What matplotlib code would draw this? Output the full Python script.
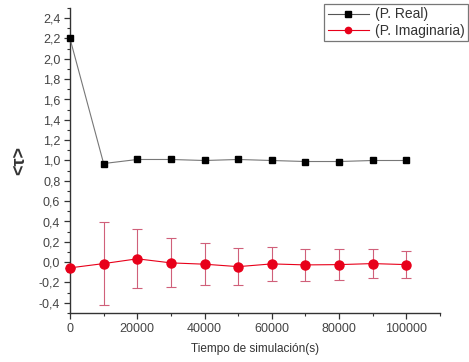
import matplotlib
matplotlib.use("Agg")
import matplotlib.pyplot as plt
from matplotlib.lines import Line2D
from matplotlib.ticker import MultipleLocator, FuncFormatter

plt.rcParams['font.family'] = ['Liberation Sans', 'DejaVu Sans']

tiempo = [0, 10000, 20000, 30000, 40000, 50000, 60000, 70000, 80000, 90000, 100000]
p_real = [2.20, 0.97, 1.01, 1.01, 1.00, 1.01, 1.00, 0.99, 0.99, 1.00, 1.00]
p_imag = [-0.056, -0.014, 0.033, -0.007, -0.02, -0.044, -0.017, -0.027, -0.024, -0.014, -0.024]
err_imag = [0.0, 0.41, 0.29, 0.24, 0.205, 0.185, 0.165, 0.155, 0.15, 0.14, 0.13]

fig = plt.figure(figsize=(4.69, 3.62), dpi=100)
ax = fig.add_axes([70/469, 1-313/362, 370/469, 305/362])

ax.plot(tiempo, p_real, color='#777777', lw=0.8, marker='s', ms=5,
        mfc='black', mec='black', clip_on=False, zorder=3)
ax.errorbar(tiempo, p_imag, yerr=err_imag, color='#e8001a', lw=0.8, marker='o', ms=6.5,
            mfc='#e8001a', mec='#e8001a', ecolor='#d0607a', elinewidth=0.8,
            capsize=3.5, capthick=0.8, clip_on=False, zorder=3)

ax.set_xlim(0, 110000)
ax.set_ylim(-0.5, 2.5)
ax.xaxis.set_major_locator(MultipleLocator(20000))
ax.xaxis.set_minor_locator(MultipleLocator(10000))
ax.yaxis.set_major_locator(MultipleLocator(0.2))
ax.yaxis.set_minor_locator(MultipleLocator(0.1))
ax.yaxis.set_major_formatter(FuncFormatter(lambda v, p: f"{v:.1f}".replace('.', ',').replace('-0,0', '0,0')))
ax.xaxis.set_major_formatter(FuncFormatter(lambda v, p: f"{int(v)}"))

for s in ['top', 'right']:
    ax.spines[s].set_visible(False)
for s in ['left', 'bottom']:
    ax.spines[s].set_color('#333333')
    ax.spines[s].set_linewidth(1.0)
ax.tick_params(which='major', direction='out', length=4, width=0.9, labelsize=9,
               colors='#333333', labelcolor='#444444', pad=3)
ax.tick_params(which='minor', direction='out', length=2.5, width=0.8, colors='#333333')

ax.set_xlabel('Tiempo de simulación(s)', fontsize=8.5, color='#333333', labelpad=6)
ax.set_ylabel('<τ>', fontsize=13, fontweight='bold', color='#333333', labelpad=8)

handles = [
    Line2D([], [], color='#555555', lw=0.8, marker='s', ms=4, mfc='black', mec='black'),
    Line2D([], [], color='#e8001a', lw=0.8, marker='o', ms=4.5, mfc='#e8001a', mec='#e8001a'),
]
leg = ax.legend(handles, ['(P. Real)', '(P. Imaginaria)'], loc='upper right',
                bbox_to_anchor=(468/469, 1-4/362), bbox_transform=fig.transFigure,
                fontsize=10, frameon=True, fancybox=False, edgecolor='#555555',
                handlelength=3.0, borderpad=0.25, labelspacing=0.15, handletextpad=0.4,
                borderaxespad=0)
leg.get_frame().set_linewidth(0.9)
for t in leg.get_texts():
    t.set_color('#333333')

fig.savefig('out.png', dpi=100)
